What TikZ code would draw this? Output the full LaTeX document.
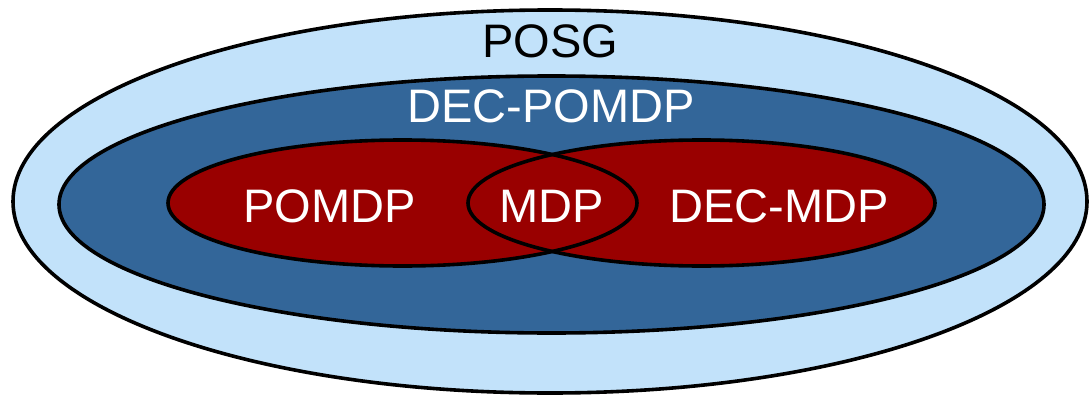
\documentclass[tikz,border=0pt]{standalone}
\usepackage{fontspec}
\setmainfont{Liberation Sans}
\usetikzlibrary{shapes.geometric}
\definecolor{posgblue}{HTML}{C2E2FA}
\definecolor{decblue}{HTML}{336699}
\definecolor{mdpred}{HTML}{990000}
\tikzset{
  setshape/.style={ellipse, draw=black, line width=3.6pt, inner sep=0pt, outer sep=0pt},
  redfill/.style={ellipse, fill=mdpred, inner sep=0pt, outer sep=0pt, minimum height=126pt},
  redline/.style={line width=3.6pt},
  lbl/.style={anchor=base, inner sep=0pt, font=\fontsize{47}{56}\selectfont},
}
\begin{document}
\begin{tikzpicture}[x=1pt, y=-1pt]
\useasboundingbox (0,0) rectangle (1089,396);
\node[setshape, fill=posgblue, minimum width=1074pt, minimum height=383pt] (posg) at (550,201.5) {};
\node[setshape, fill=decblue, minimum width=985pt, minimum height=257pt] (decpomdp) at (551.5,204.5) {};
% red ellipses: fill first, outlines after
\node[redfill, minimum width=469pt] (pomdp) at (402.5,203) {};
\node[redfill, minimum width=467pt] (decmdp) at (701.5,203) {};
\draw[redline] (pomdp.center) ellipse [x radius=234.5pt, y radius=63pt];
\draw[redline] (decmdp.center) ellipse [x radius=233.5pt, y radius=63pt];
\node[lbl, text=black] (posgl) at (550,57) {POSG};
\node[lbl, text=white] (decpomdpl) at (551,122) {DEC-POMDP};
\node[lbl, text=white] (pomdpl) at (329.5,222) {POMDP};
\node[lbl, text=white] (mdpl) at (551.5,222) {MDP};
\node[lbl, text=white] (decmdpl) at (779,222) {DEC-MDP};
\end{tikzpicture}
\end{document}
